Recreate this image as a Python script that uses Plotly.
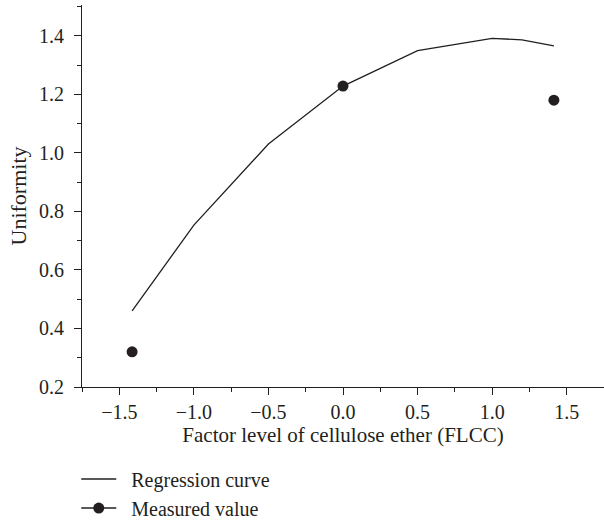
import plotly.graph_objects as go

# Regression curve
reg_x = [-1.414, -1.2, -1.0, -0.5, 0.0, 0.5, 1.0, 1.2, 1.414]
reg_y = [0.46, 0.613, 0.753, 1.03, 1.228, 1.349, 1.391, 1.386, 1.365]
# Measured values
meas_x = [-1.414, 0.0, 1.414]
meas_y = [0.32, 1.228, 1.18]

x_ticks = [-1.5, -1.0, -0.5, 0.0, 0.5, 1.0, 1.5]
x_labels = ["\u22121.5", "\u22121.0", "\u22120.5", "0.0", "0.5", "1.0", "1.5"]
y_ticks = [0.2, 0.4, 0.6, 0.8, 1.0, 1.2, 1.4]
y_labels = ["0.2", "0.4", "0.6", "0.8", "1.0", "1.2", "1.4"]

FONT = "Liberation Serif"
ink = "#231f20"
TS = 20
LS = 21

fig = go.Figure()
fig.add_trace(go.Scatter(x=reg_x, y=reg_y, mode="lines", name="\u2002Regression curve",
                         line=dict(color=ink, width=1.3), legendgroup="a"))
fig.add_trace(go.Scatter(x=meas_x, y=meas_y, mode="markers", name="Measured value",
                         marker=dict(color=ink, size=11), showlegend=False))
# legend entry for measured values (line + marker symbol)
fig.add_trace(go.Scatter(x=[None], y=[None], mode="lines+markers", name="\u2002Measured value",
                         line=dict(color=ink, width=1.3), marker=dict(color=ink, size=11),
                         legendgroup="b"))

fig.update_layout(
    width=604, height=521,
    margin=dict(l=82, r=0, t=5, b=134, autoexpand=False),
    paper_bgcolor="white", plot_bgcolor="white",
    font=dict(family=FONT, size=TS, color=ink),
    showlegend=True,
    legend=dict(x=-0.011, xref="paper", y=0.118, yref="container", xanchor="left", yanchor="top",
                font=dict(family=FONT, size=20, color=ink),
                bgcolor="rgba(0,0,0,0)", tracegroupgap=0, itemwidth=35),
)
fig.update_xaxes(range=[-1.75, 1.75], tickvals=x_ticks, ticktext=x_labels,
                 showgrid=False, zeroline=False, showline=True, linecolor=ink, linewidth=1.2,
                 ticks="outside", ticklen=7, tickwidth=1.2, tickcolor=ink,
                 minor=dict(tickvals=[-1.75, -1.25, -0.75, -0.25, 0.25, 0.75, 1.25, 1.75], ticks="outside", ticklen=4, tickcolor=ink, tickwidth=1),
                 title=dict(text="Factor level of cellulose ether (FLCC)", standoff=4,
                            font=dict(family=FONT, size=LS, color=ink)),
                 tickfont=dict(family=FONT, size=TS, color=ink))
fig.update_yaxes(range=[0.2, 1.505], tickvals=y_ticks, ticktext=y_labels,
                 showgrid=False, zeroline=False, showline=True, linecolor=ink, linewidth=1.2,
                 ticks="outside", ticklen=7, tickwidth=1.2, tickcolor=ink, ticklabelstandoff=6,
                 minor=dict(tickvals=[0.3, 0.5, 0.7, 0.9, 1.1, 1.3, 1.5], ticks="outside", ticklen=4, tickcolor=ink, tickwidth=1),
                 title=dict(text="Uniformity", standoff=6,
                            font=dict(family=FONT, size=22, color=ink)),
                 tickfont=dict(family=FONT, size=TS, color=ink))

fig.write_html("out.html")
